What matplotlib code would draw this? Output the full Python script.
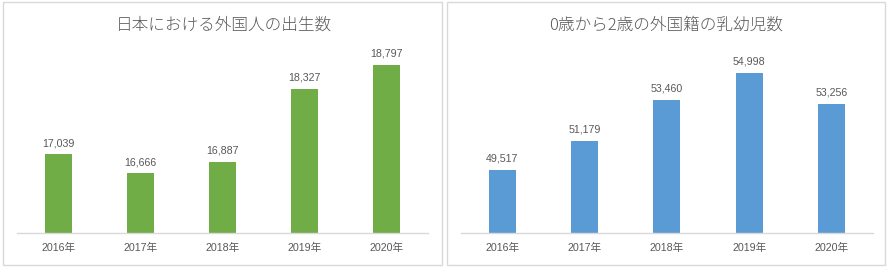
import matplotlib
matplotlib.use("Agg")
import matplotlib.pyplot as plt
from matplotlib.patches import Rectangle

plt.rcParams['font.family'] = ['Liberation Sans', 'Noto Sans CJK JP', 'DejaVu Sans']

years = ["2016年", "2017年", "2018年", "2019年", "2020年"]
births = [17039, 16666, 16887, 18327, 18797]
infants = [49517, 51179, 53460, 54998, 53256]

title_left = "日本における外国人の出生数"
title_right = "0歳から2歳の外国籍の乳幼児数"

TEXT = "#595959"
GRID = "#D9D9D9"

W, H = 890, 270
fig = plt.figure(figsize=(W / 100, H / 100), dpi=100)

# panel borders
for x0, x1 in [(3, 442), (447, 885)]:
    fig.patches.append(Rectangle((x0 / W, 1 - 265 / H), (x1 - x0) / W, 263 / H,
                                 transform=fig.transFigure, fill=False,
                                 edgecolor=GRID, linewidth=1.0))

def panel(left_px, width_px, values, color, ylim, title, title_x):
    bottom = 1 - 232.7 / H
    height = (232.7 - 54.7) / H
    ax = fig.add_axes([left_px / W, bottom, width_px / W, height])
    xs = range(len(values))
    bars = ax.bar(xs, values, width=0.33, color=color, zorder=2)
    ax.set_ylim(*ylim)
    ax.set_xlim(-0.5, len(values) - 0.5)
    for b, v in zip(bars, values):
        ax.annotate(f"{v:,}", (b.get_x() + b.get_width() / 2, v),
                    xytext=(0, 4.5), textcoords="offset points",
                    ha="center", va="bottom", fontsize=7.7, color=TEXT)
    ax.set_xticks(list(xs))
    ax.set_xticklabels(years, fontsize=7.7, color=TEXT)
    ax.tick_params(axis="x", length=0, pad=7.5)
    ax.set_yticks([])
    for s in ["top", "right", "left"]:
        ax.spines[s].set_visible(False)
    ax.spines["bottom"].set_color(GRID)
    ax.spines["bottom"].set_linewidth(1.0)
    ax.patch.set_visible(False)
    fig.text(title_x / W, 1 - 25.5 / H, title, ha="center", va="center",
             fontsize=12, color=TEXT, weight="light",
             family=['Noto Sans CJK JP', 'DejaVu Sans'])
    return ax

panel(17, 411, births, "#70AD47", (15500, 19000), title_left, 224)
panel(461, 411.7, infants, "#5B9BD5", (46000, 56000), title_right, 666)

fig.savefig("out.png", dpi=100, facecolor="white")
